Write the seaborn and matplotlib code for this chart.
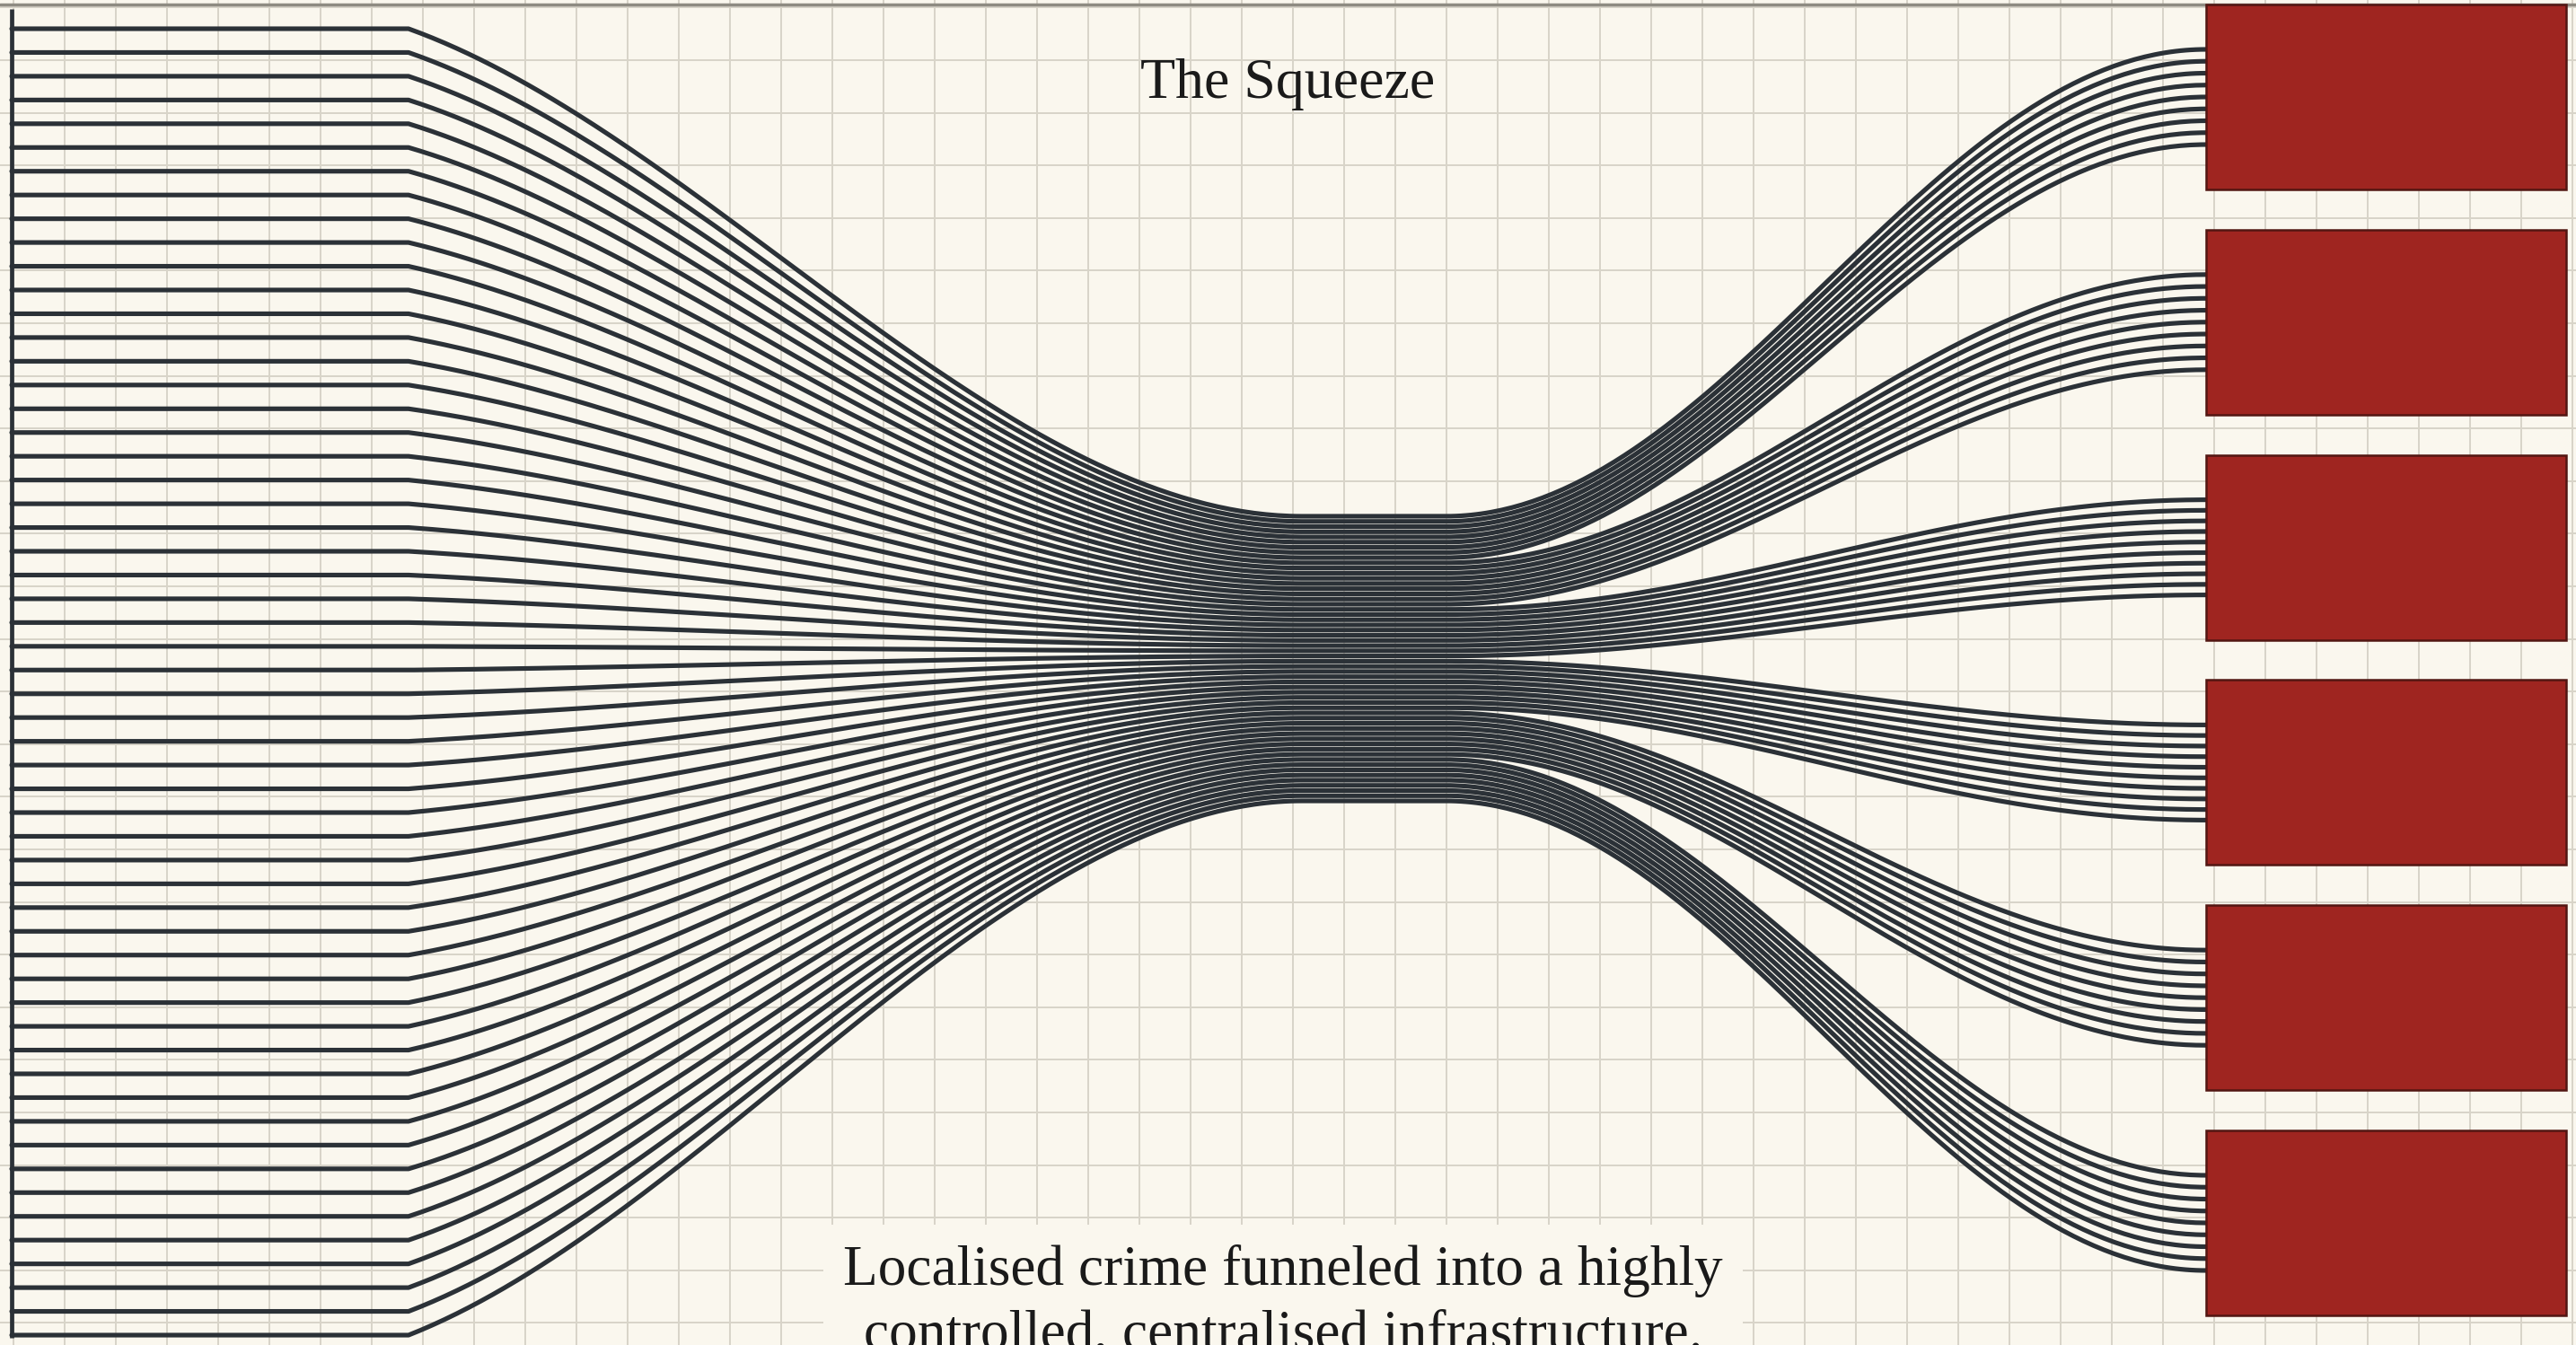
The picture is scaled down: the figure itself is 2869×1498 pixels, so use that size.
import numpy as np
import pandas as pd
import matplotlib
matplotlib.use("Agg")
import matplotlib.pyplot as plt
import seaborn as sns

# ------------------------------------
# Data: local sources funnelled into a handful of hubs
# ------------------------------------
hubs = ["Hub 1", "Hub 2", "Hub 3", "Hub 4", "Hub 5", "Hub 6"]
routes_per_hub = [9, 9, 10, 10, 9, 9]   # local lines feeding each hub
title_text = "The Squeeze"
caption_text = "Localised crime funneled into a highly\ncontrolled, centralised infrastructure."

# --- colours ---
BG = "#faf7ee"
GRID = "#d8d4c8"
INK = "#2b3137"
RED = "#9f2520"
RED_EDGE = "#521612"

# --- layout in pixel space ---
W, H = 2869, 1498
x_start, x_bend, x_mid0, x_mid1, x_box, x_box_end = 13, 455, 1450, 1610, 2457, 2858
left_top, left_bot = 32, 1487
mid_top, mid_bot = 575, 892
box_top0, box_h, box_step = 5, 206, 250.8
right_span = 106   # height taken by one hub's lines at the box edge


def ease_in(t, a=0.22):
    # cubic bezier in y: some slope at the bend, flat when joining the bundle
    return 3 * (1 - t) ** 2 * t * a + 3 * (1 - t) * t ** 2 + t ** 3


def ease_s(t):
    return (1 - np.cos(np.pi * t)) / 2


n_total = sum(routes_per_hub)
left_y = np.linspace(left_top, left_bot, n_total)
mid_y = np.linspace(mid_top, mid_bot, n_total)

box_centers = [box_top0 + box_h / 2 + g * box_step for g in range(len(hubs))]

t_left = np.linspace(0, 1, 150)
t_right = np.linspace(0, 1, 150)

rows = []
k = 0
for g, (hub, n) in enumerate(zip(hubs, routes_per_hub)):
    gap = right_span / (n - 1)
    for i in range(n):
        yl, ym = left_y[k], mid_y[k]
        yr = box_centers[g] + (i - (n - 1) / 2) * gap
        xs = np.concatenate([[x_start],
                             x_bend + (x_mid0 - x_bend) * t_left,
                             x_mid1 + (x_box - x_mid1) * t_right])
        ys = np.concatenate([[yl],
                             yl + (ym - yl) * ease_in(t_left),
                             ym + (yr - ym) * ease_s(t_right)])
        rows.append(pd.DataFrame({"x": xs, "y": ys, "route": k, "hub": hub}))
        k += 1
df = pd.concat(rows, ignore_index=True)

# ------------------------------------
# Plot
# ------------------------------------
sns.set_style("whitegrid", {"axes.facecolor": BG, "figure.facecolor": BG,
                            "grid.color": GRID})
plt.rcParams["font.family"] = ["Liberation Serif", "DejaVu Serif"]

fig = plt.figure(figsize=(W / 100, H / 100), dpi=100)
ax = fig.add_axes([0, 0, 1, 1])
ax.set_xlim(0, W)
ax.set_ylim(H, 0)

ax.set_xticks(np.arange(15, W, 57))
ax.set_yticks(np.arange(8.4, H, 58.6))
ax.grid(True, color=GRID, linewidth=1.4)
ax.tick_params(length=0, labelbottom=False, labelleft=False)
ax.set_axisbelow(True)
for s in ax.spines.values():
    s.set_visible(False)

# top rule and left spine bar
ax.axhline(5, color="#8e8b82", linewidth=2.5, zorder=1)
ax.vlines(x_start, 10, left_bot + 3, color=INK, linewidth=3.4, zorder=2)

sns.lineplot(data=df, x="x", y="y", units="route", estimator=None, sort=False,
             color=INK, linewidth=3.7, legend=False, ax=ax)

ax.barh(y=box_centers, width=x_box_end - x_box, left=x_box, height=box_h,
        color=RED, edgecolor=RED_EDGE, linewidth=1.8, zorder=3)

ax.set_xlabel("")
ax.set_ylabel("")

ax.text(1434, 94, title_text, ha="center", va="center", fontsize=46, color="#1a1a1a")
ax.text(1429, 1386, caption_text, ha="center", va="top", fontsize=45.5,
        color="#1a1a1a", linespacing=1.3,
        bbox=dict(facecolor=BG, edgecolor="none", pad=16))

fig.savefig("out.png", dpi=100, facecolor=BG)
